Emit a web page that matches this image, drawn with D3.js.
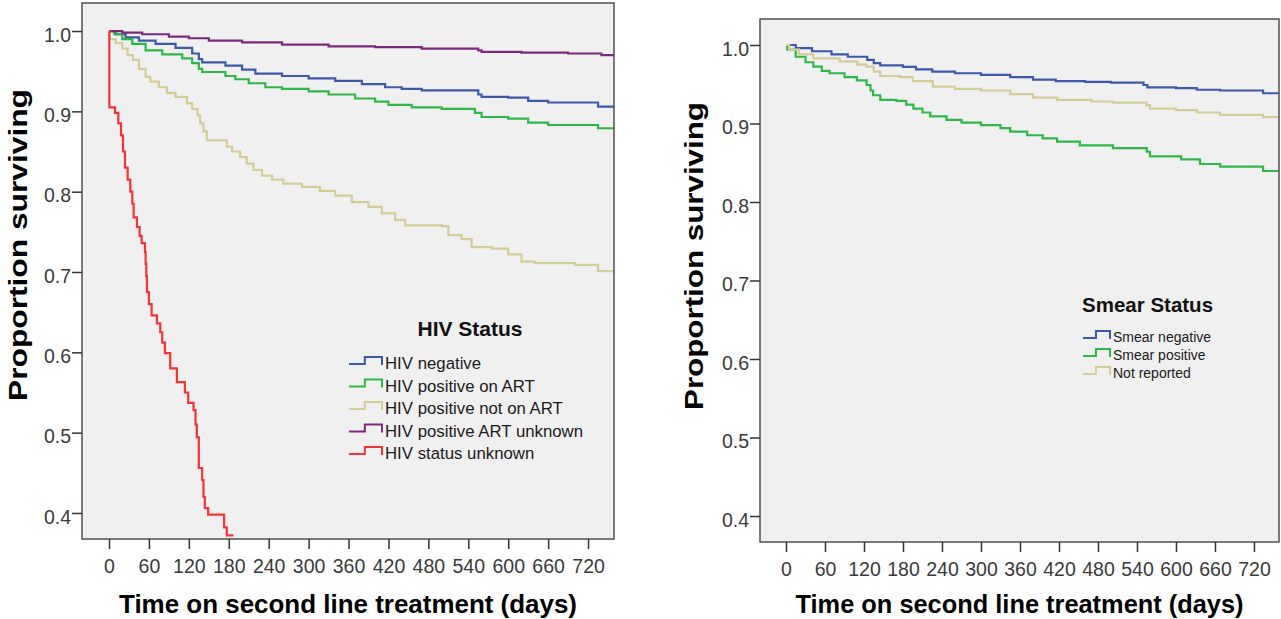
<!DOCTYPE html>
<html>
<head>
<meta charset="utf-8">
<script src="https://cdn.jsdelivr.net/npm/d3@7"></script>
<style>
  body { margin: 0; background: #fff; }
  svg { display: block; font-family: "Liberation Sans", Arial, sans-serif; }
</style>
</head>
<body>
<svg id="chart" width="1281" height="619"></svg>
<script>
const dayTicks = [0, 60, 120, 180, 240, 300, 360, 420, 480, 540, 600, 660, 720];
const survivalTicks = [0.4, 0.5, 0.6, 0.7, 0.8, 0.9, 1.0];

// Kaplan-Meier steps: [day, proportion surviving]
const hivNegative = [[0, 1], [10, 0.996], [25, 0.992], [45, 0.988], [70, 0.984], [100, 0.979], [125, 0.972],
  [135, 0.965], [140, 0.961], [175, 0.957], [200, 0.952], [220, 0.947], [260, 0.944], [300, 0.941],
  [340, 0.938], [380, 0.934], [415, 0.930], [440, 0.928], [470, 0.926], [555, 0.921], [560, 0.918],
  [600, 0.917], [630, 0.913], [660, 0.911], [735, 0.906]];
const hivPosOnArt = [[0, 1], [8, 0.996], [20, 0.99], [35, 0.984], [55, 0.976], [80, 0.971], [110, 0.966],
  [125, 0.96], [135, 0.953], [140, 0.949], [175, 0.944], [190, 0.94], [210, 0.935], [235, 0.93],
  [260, 0.928], [300, 0.925], [330, 0.921], [370, 0.916], [400, 0.912], [420, 0.908], [455, 0.905],
  [500, 0.903], [550, 0.898], [560, 0.893], [600, 0.891], [630, 0.886], [660, 0.883], [735, 0.879]];
const hivPosNotOnArt = [[0, 1], [1, 0.99], [10, 0.985], [20, 0.978], [28, 0.97], [36, 0.964], [45, 0.953],
  [55, 0.943], [62, 0.937], [75, 0.93], [87, 0.923], [100, 0.918], [117, 0.91], [125, 0.903], [133, 0.895],
  [137, 0.885], [142, 0.875], [147, 0.864], [177, 0.856], [185, 0.85], [197, 0.843], [207, 0.835],
  [217, 0.827], [230, 0.82], [245, 0.815], [262, 0.81], [290, 0.806], [317, 0.801], [340, 0.795],
  [365, 0.787], [390, 0.781], [410, 0.773], [430, 0.765], [445, 0.758], [500, 0.757], [510, 0.746],
  [530, 0.741], [545, 0.731], [575, 0.729], [600, 0.722], [620, 0.713], [640, 0.711], [700, 0.709],
  [735, 0.701]];
const hivPosArtUnknown = [[0, 1], [20, 0.998], [50, 0.996], [90, 0.993], [120, 0.991], [150, 0.988],
  [200, 0.986], [260, 0.983], [330, 0.981], [400, 0.98], [470, 0.978], [555, 0.976], [560, 0.974],
  [620, 0.973], [690, 0.972], [740, 0.970]];
const hivUnknown = [[0, 1], [0.5, 0.905], [9, 0.898], [14, 0.885], [18, 0.87], [21, 0.85], [24, 0.83],
  [28, 0.815], [32, 0.80], [35, 0.785], [37, 0.768], [42, 0.756], [46, 0.745], [49, 0.736], [54, 0.725],
  [55, 0.71], [56, 0.695], [57, 0.675], [60, 0.66], [64, 0.646], [72, 0.636], [77, 0.625], [80, 0.612],
  [84, 0.599], [92, 0.58], [102, 0.563], [114, 0.55], [119, 0.537], [127, 0.528], [130, 0.51],
  [132, 0.494], [135, 0.456], [140, 0.441], [142, 0.42], [144, 0.406], [149, 0.398], [173, 0.382],
  [177, 0.372], [187, 0.372]];

const smearNegative = [[0, 1], [15, 0.996], [40, 0.992], [70, 0.988], [95, 0.985], [125, 0.981],
  [135, 0.977], [145, 0.974], [180, 0.972], [200, 0.969], [225, 0.966], [260, 0.964], [300, 0.962],
  [345, 0.959], [380, 0.956], [415, 0.954], [460, 0.953], [500, 0.952], [550, 0.949], [556, 0.946],
  [600, 0.945], [632, 0.943], [668, 0.942], [734, 0.9385]];
const smearPositive = [[0, 1], [2, 0.994], [15, 0.985], [30, 0.978], [42, 0.9725], [55, 0.967],
  [67, 0.964], [90, 0.959], [109, 0.955], [124, 0.949], [130, 0.942], [134, 0.936], [145, 0.930],
  [170, 0.9287], [185, 0.924], [196, 0.919], [210, 0.914], [222, 0.909], [247, 0.9045], [270, 0.901],
  [300, 0.898], [330, 0.894], [345, 0.8896], [371, 0.885], [395, 0.881], [417, 0.877], [452, 0.872],
  [503, 0.8685], [555, 0.864], [560, 0.858], [608, 0.8544], [637, 0.8484], [668, 0.845], [734, 0.8395]];
const smearNotReported = [[0, 1], [5, 0.994], [20, 0.988], [42, 0.983], [83, 0.979], [110, 0.975],
  [124, 0.9725], [135, 0.966], [145, 0.9605], [175, 0.959], [195, 0.954], [226, 0.947], [260, 0.944],
  [300, 0.942], [345, 0.9375], [380, 0.933], [417, 0.930], [470, 0.928], [503, 0.9265], [555, 0.9235],
  [560, 0.919], [600, 0.917], [632, 0.914], [668, 0.911], [734, 0.908]];

const hivLabels = ['HIV negative', 'HIV positive on ART', 'HIV positive not on ART',
  'HIV positive ART unknown', 'HIV status unknown'];
const smearLabels = ['Smear negative', 'Smear positive', 'Not reported'];

const BLUE = '#3e58ac', GREEN = '#2eb848', TAN = '#d3ce97', PURPLE = '#7c287d', RED = '#f7333a';

const svg = d3.select('#chart');

function drawPanel(cfg) {
  const x = d3.scaleLinear().domain(cfg.xDomain).range([cfg.left, cfg.right]);
  const y = d3.scaleLinear().domain(cfg.yDomain).range([cfg.bottom, cfg.top]);
  const g = svg.append('g');

  g.append('rect')
    .attr('x', cfg.left).attr('y', cfg.top)
    .attr('width', cfg.right - cfg.left).attr('height', cfg.bottom - cfg.top)
    .attr('fill', '#f0f0f0');

  g.append('clipPath').attr('id', cfg.id + '-clip')
    .append('rect')
    .attr('x', cfg.left).attr('y', cfg.top)
    .attr('width', cfg.right - cfg.left).attr('height', cfg.bottom - cfg.top);

  const line = d3.line()
    .x(d => x(d[0]))
    .y(d => y(d[1]))
    .curve(d3.curveStepAfter);

  cfg.series.forEach(s => {
    const pts = s.data.slice();
    if (s.extend !== false) pts.push([cfg.xDomain[1], pts[pts.length - 1][1]]);
    g.append('path')
      .datum(pts)
      .attr('clip-path', `url(#${cfg.id}-clip)`)
      .attr('fill', 'none')
      .attr('stroke', s.color)
      .attr('stroke-width', 2.2)
      .attr('d', line);
  });

  g.append('rect')
    .attr('x', cfg.left).attr('y', cfg.top)
    .attr('width', cfg.right - cfg.left).attr('height', cfg.bottom - cfg.top)
    .attr('fill', 'none')
    .attr('stroke', '#505050')
    .attr('stroke-width', 1.5);

  const xAxis = g.append('g')
    .attr('transform', `translate(0,${cfg.bottom})`)
    .call(d3.axisBottom(x).tickValues(dayTicks).tickSize(10).tickPadding(10));
  xAxis.select('.domain').remove();
  xAxis.selectAll('line').attr('stroke', '#333').attr('stroke-width', 1.5);
  xAxis.selectAll('text')
    .attr('fill', '#3a3a3a')
    .style('font-size', '19.5px')
    .style('font-family', '"Liberation Sans", Arial, sans-serif');

  const yAxis = g.append('g')
    .attr('transform', `translate(${cfg.left},0)`)
    .call(d3.axisLeft(y).tickValues(survivalTicks).tickFormat(d3.format('.1f')).tickSize(10).tickPadding(1));
  yAxis.select('.domain').remove();
  yAxis.selectAll('line').attr('stroke', '#333').attr('stroke-width', 1.5);
  yAxis.selectAll('text')
    .attr('fill', '#3a3a3a')
    .attr('dy', '0.52em')
    .style('font-size', '19.5px')
    .style('font-family', '"Liberation Sans", Arial, sans-serif');

  g.append('text')
    .attr('x', (cfg.left + cfg.right) / 2)
    .attr('y', cfg.xLabelY)
    .attr('text-anchor', 'middle')
    .attr('font-weight', 'bold')
    .attr('font-size', 25.5)
    .attr('textLength', cfg.xLabelLength)
    .attr('lengthAdjust', 'spacingAndGlyphs')
    .attr('fill', '#000')
    .text('Time on second line treatment (days)');

  g.append('text')
    .attr('transform', `translate(${cfg.yLabelX},${cfg.yLabelY}) rotate(-90)`)
    .attr('text-anchor', 'middle')
    .attr('font-weight', 'bold')
    .attr('font-size', 25.5)
    .attr('textLength', cfg.yLabelLength)
    .attr('lengthAdjust', 'spacingAndGlyphs')
    .attr('fill', '#000')
    .text('Proportion surviving');

  // legend
  const lg = cfg.legend;
  g.append('text')
    .attr('x', lg.titleX).attr('y', lg.titleY)
    .attr('text-anchor', lg.titleAnchor)
    .attr('font-weight', 'bold')
    .attr('font-size', lg.titleSize)
    .attr('fill', '#111')
    .text(lg.title);

  cfg.series.forEach((s, i) => {
    const b = lg.firstY + i * lg.step;
    const sx = lg.symbolX, w = lg.symbolW;
    g.append('path')
      .attr('d', `M${sx},${b - lg.low}H${sx + w * 0.48}V${b - lg.high}H${sx + w}V${b - lg.low + 1}`)
      .attr('fill', 'none')
      .attr('stroke', s.color)
      .attr('stroke-width', 2);
    g.append('text')
      .attr('x', sx + w + 3).attr('y', b)
      .attr('font-size', lg.itemSize)
      .attr('fill', '#1a1a1a')
      .text(s.label);
  });
}

drawPanel({
  id: 'hiv',
  left: 82, right: 614, top: 3, bottom: 539,
  xDomain: [-40.6, 759], yDomain: [0.3676, 1.0349],
  xLabelY: 613, xLabelLength: 458,
  yLabelX: 27, yLabelY: 245, yLabelLength: 312,
  series: [
    { data: hivNegative, color: BLUE, label: hivLabels[0] },
    { data: hivPosOnArt, color: GREEN, label: hivLabels[1] },
    { data: hivPosNotOnArt, color: TAN, label: hivLabels[2] },
    { data: hivPosArtUnknown, color: PURPLE, label: hivLabels[3] },
    { data: hivUnknown, color: RED, label: hivLabels[4], extend: false }
  ],
  legend: {
    title: 'HIV Status', titleX: 470, titleY: 336, titleAnchor: 'middle', titleSize: 21,
    firstY: 369, step: 22.5, symbolX: 349, symbolW: 33, low: 5, high: 12, itemSize: 16.8
  }
});

drawPanel({
  id: 'smear',
  left: 760, right: 1279, top: 19, bottom: 542,
  xDomain: [-40, 758.5], yDomain: [0.3669, 1.0331],
  xLabelY: 613, xLabelLength: 448,
  yLabelX: 703, yLabelY: 256, yLabelLength: 308,
  series: [
    { data: smearNegative, color: BLUE, label: smearLabels[0] },
    { data: smearPositive, color: GREEN, label: smearLabels[1] },
    { data: smearNotReported, color: TAN, label: smearLabels[2] }
  ],
  legend: {
    title: 'Smear Status', titleX: 1082, titleY: 312, titleAnchor: 'start', titleSize: 20.5,
    firstY: 342, step: 18, symbolX: 1083, symbolW: 27, low: 4, high: 11, itemSize: 14
  }
});
</script>
</body>
</html>
